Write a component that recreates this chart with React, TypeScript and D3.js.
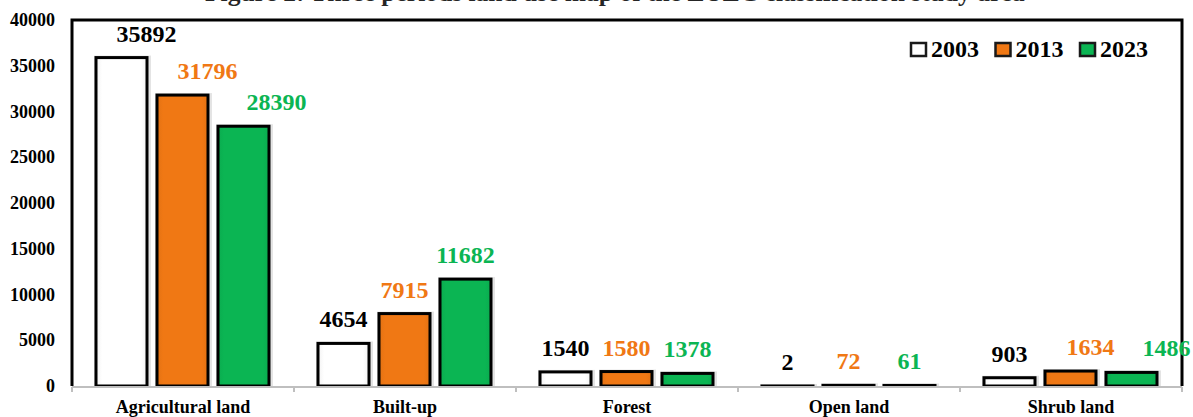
import React from 'react';
import * as d3 from 'd3';

const categories = ["Agricultural land", "Built-up", "Forest", "Open land", "Shrub land"];
const years = ["2003", "2013", "2023"];
const values2003 = [35892, 4654, 1540, 2, 903];
const values2013 = [31796, 7915, 1580, 72, 1634];
const values2023 = [28390, 11682, 1378, 61, 1486];
const yTicks = [0, 5000, 10000, 15000, 20000, 25000, 30000, 35000, 40000];
const title = "Figure 2: Three periods land use map of the LULC classification study area";

const series = [values2003, values2013, values2023];
const colors = ["#ffffff", "#f07814", "#0bb553"];
const labelColors = ["#000000", "#f07814", "#0bb553"];
// hand-placed label nudges (like the original, where labels were dragged sideways)
const labelNudge: Record<string, number[]> = {
  "Agricultural land": [25, 25, 33],
  "Shrub land": [0, 20, 35],
};

const W = 1193;
const H = 417;
const margin = { top: 20, right: 11, bottom: 31, left: 72 };
const font = '"Liberation Serif", "Times New Roman", serif';

const App: React.FC = () => {
  const x = d3.scaleBand<string>().domain(categories).range([margin.left, W - margin.right]);
  const xi = d3.scaleBand<string>().domain(years).range([24, 197]).paddingInner(10 / 61);
  const y = d3.scaleLinear().domain([0, 40000]).range([H - margin.bottom, margin.top]);
  const y0 = y(0);
  const left = margin.left;
  const right = W - margin.right;
  const top = margin.top;
  const bounds = [...categories.map(c => x(c)!), right];

  return (
    <div style={{ position: 'absolute', left: 0, top: 0 }}>
      <svg width={W} height={H} style={{ display: 'block', fontFamily: font, fontWeight: 'bold' }}>
        <defs>
          {colors.map((c, i) => (
            <linearGradient key={i} id={`g${i}`} x1="0" x2="1" y1="0" y2="0">
              <stop offset="0" stopColor={d3.color(c)!.darker(0.15).toString()} />
              <stop offset="0.12" stopColor={c} />
              <stop offset="0.88" stopColor={c} />
              <stop offset="1" stopColor={d3.color(c)!.darker(0.15).toString()} />
            </linearGradient>
          ))}
        </defs>
        <rect width={W} height={H} fill="#fff" />

        {/* title sits mostly above the crop, as in the source image */}
        <text x={205} y={1} fontSize={25.5} fill="#000" opacity={0.85}>{title}</text>

        {/* y axis labels */}
        {yTicks.map(t => (
          <text key={t} x={55} y={y(t) + 6} fontSize={18} textAnchor="end" fill="#000">{t}</text>
        ))}

        {/* bars */}
        {categories.map((cat, ci) => (
          <g key={cat} transform={`translate(${x(cat)},0)`}>
            {series.map((vals, si) => {
              const bx = xi(years[si])!;
              const bw = xi.bandwidth();
              const by = y(vals[ci]);
              const bh = Math.max(y0 - by, 0.5);
              return (
                <g key={si}>
                  <rect x={bx - 2} y={by - 2} width={bw + 6} height={bh + 2} fill="#d9d9d9" opacity={0.7} />
                  <rect x={bx} y={by} width={bw} height={bh} fill={`url(#g${si})`} stroke="#000" strokeWidth={3} />
                </g>
              );
            })}
          </g>
        ))}

        {/* frame */}
        <path d={`M${left},${y0}V${top}H${right}V${y0}`} fill="none" stroke="#000" strokeWidth={3} />
        <line x1={left} x2={right} y1={y0 + 1} y2={y0 + 1} stroke="#bfbfbf" strokeWidth={2} />
        {bounds.map((b, i) => (
          <line key={i} x1={b} x2={b} y1={y0 + 1} y2={y0 + 6} stroke="#bfbfbf" strokeWidth={2} />
        ))}

        {/* value labels */}
        {categories.map((cat, ci) => (
          <g key={cat} transform={`translate(${x(cat)},0)`}>
            {series.map((vals, si) => {
              const nudge = labelNudge[cat] ? labelNudge[cat][si] : 0;
              return (
                <text key={si} x={xi(years[si])! + xi.bandwidth() / 2 + nudge} y={y(vals[ci]) - 16}
                  fontSize={24} textAnchor="middle" fill={labelColors[si]}>{vals[ci]}</text>
              );
            })}
          </g>
        ))}

        {/* category labels */}
        {categories.map(cat => (
          <text key={cat} x={x(cat)! + x.bandwidth() / 2} y={413} fontSize={18} textAnchor="middle" fill="#000">{cat}</text>
        ))}

        {/* legend */}
        {years.map((yr, i) => {
          const lx = 910 + i * 84.5;
          return (
            <g key={yr}>
              <rect x={lx + 1} y={43} width={15} height={13} fill={`url(#g${i})`} stroke="#1a1a1a" strokeWidth={2.5} />
              <text x={lx + 21} y={57} fontSize={24} fill="#000">{yr}</text>
            </g>
          );
        })}
      </svg>
    </div>
  );
};

export default App;
